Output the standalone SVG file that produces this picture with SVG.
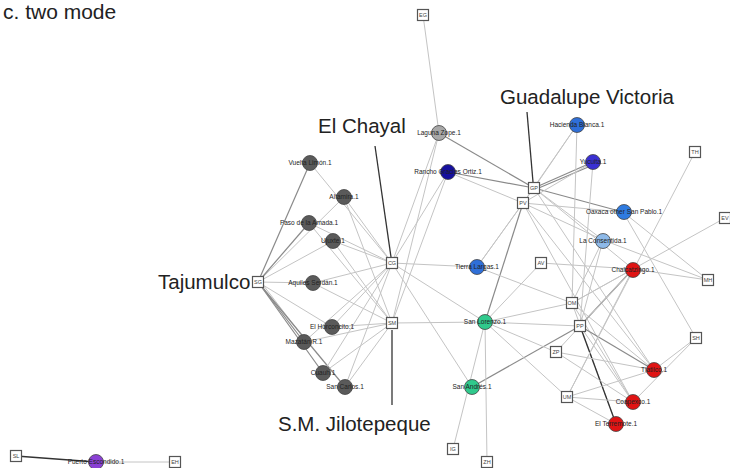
<svg xmlns="http://www.w3.org/2000/svg" width="730" height="468" viewBox="0 0 730 468">
  <style>
    .e { stroke: #c4c4c4; stroke-width: 1; fill: none; }
    .d { stroke: #8a8a8a; stroke-width: 1.2; fill: none; }
    .p { stroke: #333; stroke-width: 1.3; fill: none; }
    .src rect { fill: #fff; stroke: #555; stroke-width: 1.2; }
    .src text { font-family: "Liberation Sans", Arial, sans-serif; font-size: 5.5px; fill: #444; text-anchor: middle; }
    .site circle { stroke: #444; stroke-width: 0.8; }
    .site text { font-family: "Liberation Sans", Arial, sans-serif; font-size: 6.5px; fill: #222; text-anchor: middle; }
    .big { font-family: "Liberation Sans", Arial, sans-serif; font-size: 20.5px; fill: #222; }
    .gr circle { fill: #5a5a5a; }
  </style>

  <text x="3" y="19" font-family="Liberation Sans, Arial, sans-serif" font-size="21" fill="#222">c. two mode</text>

  <!-- connectors -->
  <g id="connectors">
    <!-- Tajumulco (SG) -->
    <line class="d" x1="258" y1="282" x2="310" y2="163"/>
    <line class="e" x1="258" y1="282" x2="344" y2="197"/>
    <line class="d" x1="258" y1="282" x2="309" y2="223"/>
    <line class="e" x1="258" y1="282" x2="333" y2="241"/>
    <line class="e" x1="258" y1="282" x2="313" y2="283"/>
    <line class="e" x1="258" y1="282" x2="332" y2="327"/>
    <line class="d" x1="258" y1="282" x2="304" y2="342"/>
    <line class="e" x1="260" y1="281" x2="306" y2="341"/>
    <line class="d" x1="258" y1="282" x2="323" y2="373"/>
    <line class="d" x1="258" y1="282" x2="345" y2="387"/>
    <!-- El Chayal (CG) -->
    <line class="e" x1="392" y1="263" x2="310" y2="163"/>
    <line class="e" x1="392" y1="263" x2="344" y2="197"/>
    <line class="e" x1="392" y1="263" x2="309" y2="223"/>
    <line class="e" x1="392" y1="263" x2="333" y2="241"/>
    <line class="e" x1="392" y1="263" x2="313" y2="283"/>
    <line class="e" x1="392" y1="263" x2="332" y2="327"/>
    <line class="e" x1="392" y1="263" x2="304" y2="342"/>
    <line class="e" x1="392" y1="263" x2="323" y2="373"/>
    <line class="e" x1="392" y1="263" x2="345" y2="387"/>
    <line class="e" x1="392" y1="263" x2="439" y2="133"/>
    <line class="e" x1="392" y1="263" x2="448" y2="172"/>
    <line class="e" x1="392" y1="263" x2="477" y2="267"/>
    <line class="e" x1="392" y1="263" x2="485" y2="322"/>
    <line class="e" x1="392" y1="263" x2="472" y2="387"/>
    <!-- S.M. Jilotepeque (SM) -->
    <line class="e" x1="392" y1="323" x2="344" y2="197"/>
    <line class="e" x1="392" y1="323" x2="309" y2="223"/>
    <line class="e" x1="392" y1="323" x2="333" y2="241"/>
    <line class="e" x1="392" y1="323" x2="313" y2="283"/>
    <line class="e" x1="392" y1="323" x2="332" y2="327"/>
    <line class="e" x1="392" y1="323" x2="304" y2="342"/>
    <line class="e" x1="392" y1="323" x2="323" y2="373"/>
    <line class="e" x1="392" y1="323" x2="345" y2="387"/>
    <line class="e" x1="392" y1="323" x2="485" y2="322"/>
    <line class="e" x1="392" y1="323" x2="448" y2="172"/>
    <line class="e" x1="392" y1="323" x2="439" y2="133"/>
    <!-- EG -->
    <line class="e" x1="423" y1="15" x2="439" y2="133"/>
    <!-- GP -->
    <line class="d" x1="534" y1="188" x2="439" y2="133"/>
    <line class="d" x1="534" y1="188" x2="448" y2="172"/>
    <line class="e" x1="534" y1="188" x2="577" y2="125"/>
    <line class="d" x1="534" y1="188" x2="593" y2="162"/>
    <line class="d" x1="534" y1="190" x2="593" y2="165"/>
    <line class="d" x1="534" y1="188" x2="623" y2="212"/>
    <line class="e" x1="534" y1="188" x2="603" y2="240"/>
    <line class="e" x1="534" y1="188" x2="633" y2="269"/>
    <line class="e" x1="534" y1="188" x2="654" y2="370"/>
    <line class="e" x1="534" y1="188" x2="477" y2="267"/>
    <!-- PV -->
    <line class="e" x1="523" y1="203" x2="448" y2="172"/>
    <line class="e" x1="523" y1="203" x2="577" y2="125"/>
    <line class="e" x1="523" y1="203" x2="593" y2="162"/>
    <line class="e" x1="523" y1="203" x2="623" y2="212"/>
    <line class="e" x1="523" y1="203" x2="603" y2="240"/>
    <line class="e" x1="523" y1="203" x2="477" y2="267"/>
    <line class="d" x1="523" y1="203" x2="485" y2="322"/>
    <line class="e" x1="523" y1="203" x2="633" y2="402"/>
    <line class="e" x1="523" y1="203" x2="654" y2="370"/>
    <!-- OM -->
    <line class="e" x1="572" y1="303" x2="577" y2="125"/>
    <line class="e" x1="572" y1="303" x2="477" y2="267"/>
    <line class="e" x1="572" y1="303" x2="485" y2="322"/>
    <line class="e" x1="572" y1="303" x2="603" y2="240"/>
    <line class="e" x1="572" y1="303" x2="633" y2="269"/>
    <line class="e" x1="572" y1="303" x2="654" y2="370"/>
    <line class="e" x1="572" y1="303" x2="633" y2="402"/>
    <line class="e" x1="572" y1="303" x2="616" y2="424"/>
    <line class="e" x1="572" y1="303" x2="725" y2="218"/>
    <!-- PP -->
    <line class="e" x1="580" y1="326" x2="593" y2="162"/>
    <line class="e" x1="580" y1="326" x2="603" y2="240"/>
    <line class="d" x1="580" y1="326" x2="633" y2="269"/>
    <line class="e" x1="580" y1="326" x2="485" y2="322"/>
    <line class="d" x1="580" y1="326" x2="472" y2="387"/>
    <line class="d" x1="580" y1="326" x2="654" y2="370"/>
    <line class="p" x1="580" y1="326" x2="616" y2="424"/>
    <line class="e" x1="580" y1="326" x2="633" y2="402"/>
    <!-- ZP -->
    <line class="e" x1="556" y1="352" x2="485" y2="322"/>
    <line class="e" x1="556" y1="352" x2="633" y2="269"/>
    <line class="e" x1="556" y1="352" x2="633" y2="402"/>
    <line class="e" x1="556" y1="352" x2="654" y2="370"/>
    <!-- UM -->
    <line class="e" x1="567" y1="397" x2="485" y2="322"/>
    <line class="e" x1="567" y1="397" x2="654" y2="370"/>
    <line class="e" x1="567" y1="397" x2="633" y2="402"/>
    <line class="e" x1="567" y1="397" x2="616" y2="424"/>
    <line class="e" x1="567" y1="397" x2="633" y2="269"/>
    <line class="e" x1="567" y1="397" x2="695" y2="152"/>
    <!-- SH / MH / AV -->
    <line class="e" x1="696" y1="338" x2="654" y2="370"/>
    <line class="e" x1="696" y1="338" x2="633" y2="402"/>
    <line class="e" x1="696" y1="338" x2="623" y2="212"/>
    <line class="e" x1="708" y1="280" x2="633" y2="269"/>
    <line class="e" x1="708" y1="280" x2="603" y2="240"/>
    <line class="e" x1="708" y1="280" x2="623" y2="212"/>
    <line class="e" x1="541" y1="263" x2="633" y2="269"/>
    <line class="e" x1="541" y1="263" x2="485" y2="322"/>
    <!-- IG / ZH -->
    <line class="e" x1="453" y1="449" x2="485" y2="322"/>
    <line class="e" x1="487" y1="462" x2="485" y2="322"/>
    <!-- SL / EH -->
    <line class="p" x1="16" y1="456" x2="96" y2="462"/>
    <line class="e" x1="96" y1="462" x2="175" y2="462"/>
    <!-- label pointers -->
    <line class="p" x1="375" y1="146" x2="391" y2="257"/>
    <line class="p" x1="527" y1="112" x2="533" y2="182"/>
    <line class="p" x1="392" y1="330" x2="392" y2="405"/>
  </g>

  <!-- source nodes -->
  <g class="src">
    <g id="n-EG"><rect x="417.5" y="9.5" width="11" height="11"/><text x="423" y="17">EG</text></g>
    <g id="n-SG"><rect x="252.5" y="276.5" width="11" height="11"/><text x="258" y="284">SG</text></g>
    <g id="n-CG"><rect x="386.5" y="257.5" width="11" height="11"/><text x="392" y="265">CG</text></g>
    <g id="n-SM"><rect x="386.5" y="317.5" width="11" height="11"/><text x="392" y="325">SM</text></g>
    <g id="n-GP"><rect x="528.5" y="182.5" width="11" height="11"/><text x="534" y="190">GP</text></g>
    <g id="n-PV"><rect x="517.5" y="197.5" width="11" height="11"/><text x="523" y="205">PV</text></g>
    <g id="n-TH"><rect x="689.5" y="146.5" width="11" height="11"/><text x="695" y="154">TH</text></g>
    <g id="n-EV"><rect x="719.5" y="212.5" width="11" height="11"/><text x="725" y="220">EV</text></g>
    <g id="n-AV"><rect x="535.5" y="257.5" width="11" height="11"/><text x="541" y="265">AV</text></g>
    <g id="n-MH"><rect x="702.5" y="274.5" width="11" height="11"/><text x="708" y="282">MH</text></g>
    <g id="n-OM"><rect x="566.5" y="297.5" width="11" height="11"/><text x="572" y="305">OM</text></g>
    <g id="n-PP"><rect x="574.5" y="320.5" width="11" height="11"/><text x="580" y="328">PP</text></g>
    <g id="n-ZP"><rect x="550.5" y="346.5" width="11" height="11"/><text x="556" y="354">ZP</text></g>
    <g id="n-SH"><rect x="690.5" y="332.5" width="11" height="11"/><text x="696" y="340">SH</text></g>
    <g id="n-UM"><rect x="561.5" y="391.5" width="11" height="11"/><text x="567" y="399">UM</text></g>
    <g id="n-IG"><rect x="447.5" y="443.5" width="11" height="11"/><text x="453" y="451">IG</text></g>
    <g id="n-ZH"><rect x="481.5" y="456.5" width="11" height="11"/><text x="487" y="464">ZH</text></g>
    <g id="n-SL"><rect x="10.5" y="450.5" width="11" height="11"/><text x="16" y="458">SL</text></g>
    <g id="n-EH"><rect x="169.5" y="456.5" width="11" height="11"/><text x="175" y="464">EH</text></g>
  </g>

  <!-- site nodes -->
  <g class="site gr">
    <g id="s-vuelta-limon"><circle cx="310" cy="163" r="7.5"/><text x="310" y="165.3">Vuelta Limón.1</text></g>
    <g id="s-altamira"><circle cx="344" cy="197" r="7.5"/><text x="344" y="199.3">Altamira.1</text></g>
    <g id="s-paso-amada"><circle cx="309" cy="223" r="7.5"/><text x="309" y="225.3">Paso de la Amada.1</text></g>
    <g id="s-ujuxte"><circle cx="333" cy="241" r="7.5"/><text x="333" y="243.3">Ujuxte.1</text></g>
    <g id="s-aquiles"><circle cx="313" cy="283" r="7.5"/><text x="313" y="285.3">Aquiles Serdán.1</text></g>
    <g id="s-horconcito"><circle cx="332" cy="327" r="7.5"/><text x="332" y="329.3">El Horconcito.1</text></g>
    <g id="s-mazatan"><circle cx="304" cy="342" r="7.5"/><text x="304" y="344.3">Mazatán R.1</text></g>
    <g id="s-cuauh"><circle cx="323" cy="373" r="7.5"/><text x="323" y="375.3">Cuauh.1</text></g>
    <g id="s-san-carlos"><circle cx="345" cy="387" r="7.5"/><text x="345" y="389.3">San Carlos.1</text></g>
  </g>
  <g class="site">
    <g id="s-laguna-zope"><circle cx="439" cy="133" r="7.5" fill="#a8a8a8"/><text x="439" y="135.3">Laguna Zope.1</text></g>
    <g id="s-rancho"><circle cx="448" cy="172" r="7.5" fill="#16109e"/><text x="448" y="174.3">Rancho Gracias Ortiz.1</text></g>
    <g id="s-hacienda"><circle cx="577" cy="125" r="7.5" fill="#2f6fd8"/><text x="577" y="127.3">Hacienda Blanca.1</text></g>
    <g id="s-yucuita"><circle cx="593" cy="162" r="7.5" fill="#3a30d2"/><text x="593" y="164.3">Yucuita.1</text></g>
    <g id="s-oaxaca"><circle cx="624" cy="212" r="7.5" fill="#2f7be0"/><text x="624" y="214.3">Oaxaca other San Pablo.1</text></g>
    <g id="s-consentida"><circle cx="603" cy="241" r="7.5" fill="#8db9e8"/><text x="603" y="243.3">La Consentida.1</text></g>
    <g id="s-tierras"><circle cx="477" cy="267" r="7.5" fill="#2f6fd8"/><text x="477" y="269.3">Tierra Largas.1</text></g>
    <g id="s-san-lorenzo"><circle cx="485" cy="322" r="7.5" fill="#30c98c"/><text x="485" y="324.3">San Lorenzo.1</text></g>
    <g id="s-san-andres"><circle cx="472" cy="387" r="7.5" fill="#30c98c"/><text x="472" y="389.3">San Andrés.1</text></g>
    <g id="s-chalcatzingo"><circle cx="633" cy="270" r="7.5" fill="#e01414"/><text x="633" y="272.3">Chalcatzingo.1</text></g>
    <g id="s-tlatilco"><circle cx="654" cy="370" r="7.5" fill="#e01414"/><text x="654" y="372.3">Tlatilco.1</text></g>
    <g id="s-coapexco"><circle cx="633" cy="402" r="7.5" fill="#e01414"/><text x="633" y="404.3">Coapexco.1</text></g>
    <g id="s-terremote"><circle cx="616" cy="424" r="7.5" fill="#e01414"/><text x="616" y="426.3">El Terremote.1</text></g>
    <g id="s-puerto"><circle cx="96" cy="462" r="7.5" fill="#8a40d4"/><text x="96" y="464.3">Puerto Escondido.1</text></g>
  </g>

  <!-- source region labels -->
  <text class="big" x="318" y="133">El Chayal</text>
  <text class="big" x="500" y="104">Guadalupe Victoria</text>
  <text class="big" x="158" y="289">Tajumulco</text>
  <text class="big" x="278" y="431" font-size="21">S.M. Jilotepeque</text>
</svg>
